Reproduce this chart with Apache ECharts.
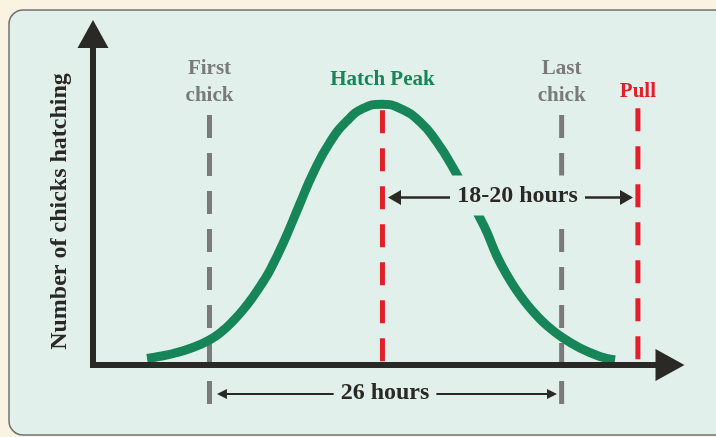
<!DOCTYPE html>
<html>
<head>
<meta charset="utf-8">
<script src="https://cdn.jsdelivr.net/npm/echarts@6/dist/echarts.min.js"></script>
<style>
html,body{margin:0;padding:0;background:#fbf3e2;}
#main{width:716px;height:437px;}
</style>
</head>
<body>
<div id="main"></div>
<script>
// 孵化曲线：横轴为小时（第一只小鸡 = 0），纵轴为孵化数量（相对值）
var curveHours = [-4.61, -3.65, -2.67, -1.44, 0, 1.02, 1.76, 2.5, 3.23, 3.97, 4.47, 5.45, 6.68, 7.66, 8.9, 10.13, 11.36, 12.71,
  14.06, 15.54, 16.77, 18.0, 20.27, 21.2, 21.94, 22.68, 23.42, 24.16, 24.9, 26.0, 27.35, 28.83, 29.94];
var curveCounts = [1.96, 2.63, 3.47, 4.98, 7.55, 10.51, 13.38, 16.77, 20.69, 25.23, 28.67, 36.92, 48.76, 58.01, 67.34, 73.66, 77.55, 78.76,
  77.55, 73.5, 67.46, 59.43, 41.99, 33.08, 27.34, 22.51, 18.43, 14.95, 11.99, 8.46, 5.14, 2.6, 1.51];

// 竖直虚线和上方文字
var markerNames = ['First\nchick', 'Hatch Peak', 'Last\nchick', 'Pull'];
var markerHours = [0, 12.77, 26, 31.63];
var markerTop = [75.5, 77.0, 75.5, 77.6];
var markerBottom = [-11.8, 0, -11.8, 1.2];
var markerColors = ['#7a7a7a', '#e3202a', '#7a7a7a', '#e3202a'];
var labelColors = ['#7a7a7a', '#168558', '#7a7a7a', '#e3202a'];
var labelY = [85.4, 86.1, 85.4, 82.5];

// 时间间隔（双箭头）
var spanTexts = ['18-20 hours', '26 hours'];
var spanTextPos = [[22.74, 51.2], [12.96, -8.3]];
var spanY = [50.6, -8.76];
var spanLeft = [[13.66, 17.76], [0.92, 9.41]];
var spanRight = [[27.72, 30.79], [16.57, 25.29]];
var spanArrowSize = [[15, 13], [10, 10]];
var spanLineWidth = [2.5, 2];

var FONT = 'Liberation Serif';
var DARK = '#2b2926';
var PANEL = '#e2f0ec';

var chart = echarts.init(document.getElementById('main'));

var series = [];

// 绿色曲线
series.push({
  type: 'line',
  data: curveHours.map(function (h, i) { return [h, curveCounts[i]]; }),
  smooth: 0.5,
  symbol: 'none',
  clip: false,
  z: 4,
  lineStyle: { color: '#168558', width: 9 }
});

// 四条虚线
for (var i = 0; i < markerHours.length; i++) {
  series.push({
    type: 'line',
    data: [[markerHours[i], markerTop[i]], [markerHours[i], markerBottom[i]]],
    symbol: 'none',
    clip: false,
    z: 3,
    lineStyle: { color: markerColors[i], width: 5, type: [23, 15] }
  });
}

// 虚线上方的文字
series.push({
  type: 'scatter',
  clip: false,
  symbolSize: 0,
  z: 6,
  itemStyle: { opacity: 1 },
  data: markerHours.map(function (h, i) {
    return { value: [h, labelY[i]], label: { color: labelColors[i] } };
  }),
  label: {
    show: true,
    position: 'inside',
    opacity: 1,
    formatter: function (p) { return markerNames[p.dataIndex]; },
    fontFamily: FONT,
    fontWeight: 'bold',
    fontSize: 21,
    lineHeight: 27
  }
});

// 双箭头
var arrowData = [];
for (var j = 0; j < spanTexts.length; j++) {
  var sz = spanArrowSize[j];
  arrowData.push({
    coords: [[spanLeft[j][0], spanY[j]], [spanLeft[j][1], spanY[j]]],
    symbol: ['triangle', 'none'],
    symbolSize: [sz, sz],
    lineStyle: { width: spanLineWidth[j] }
  });
  arrowData.push({
    coords: [[spanRight[j][0], spanY[j]], [spanRight[j][1], spanY[j]]],
    symbol: ['none', 'triangle'],
    symbolSize: [sz, sz],
    lineStyle: { width: spanLineWidth[j] }
  });
}
series.push({
  type: 'lines',
  coordinateSystem: 'cartesian2d',
  clip: false,
  z: 6,
  data: arrowData,
  lineStyle: { color: DARK, opacity: 1, curveness: 0 }
});

// 箭头中间的文字（带底色，遮住后面的线）
series.push({
  type: 'scatter',
  clip: false,
  symbolSize: 0,
  z: 7,
  itemStyle: { opacity: 1 },
  data: spanTextPos,
  label: {
    show: true,
    position: 'inside',
    opacity: 1,
    formatter: function (p) { return spanTexts[p.dataIndex]; },
    fontFamily: FONT,
    fontWeight: 'bold',
    fontSize: 24,
    color: DARK,
    backgroundColor: PANEL,
    padding: [8, 7]
  }
});

var option = {
  backgroundColor: '#fbf3e2',
  animation: false,
  graphic: [{
    type: 'rect',
    z: -10,
    silent: true,
    shape: { x: 9, y: 10, width: 760, height: 425, r: 14 },
    style: { fill: PANEL, stroke: '#707070', lineWidth: 1.5 }
  }],
  grid: { left: 93, right: 46, top: 34, bottom: 72, outerBoundsMode: 'none' },
  xAxis: {
    type: 'value',
    min: -8.6,
    max: 34,
    z: 5,
    axisLine: {
      show: true,
      onZero: true,
      symbol: ['none', 'triangle'],
      symbolSize: [32, 29],
      lineStyle: { color: DARK, width: 6, cap: 'square' }
    },
    axisTick: { show: false },
    axisLabel: { show: false },
    splitLine: { show: false }
  },
  yAxis: {
    type: 'value',
    min: 0,
    max: 100,
    z: 5,
    name: 'Number of chicks hatching',
    nameLocation: 'middle',
    nameRotate: 90,
    nameGap: 21,
    nameTextStyle: {
      fontFamily: FONT,
      fontWeight: 'bold',
      fontSize: 24,
      color: DARK,
      padding: [0, 24, 0, 0]
    },
    axisLine: {
      show: true,
      onZero: false,
      symbol: ['none', 'triangle'],
      symbolSize: [31, 28],
      lineStyle: { color: DARK, width: 6, cap: 'square' }
    },
    axisTick: { show: false },
    axisLabel: { show: false },
    splitLine: { show: false }
  },
  series: series
};

chart.setOption(option);
</script>
</body>
</html>
